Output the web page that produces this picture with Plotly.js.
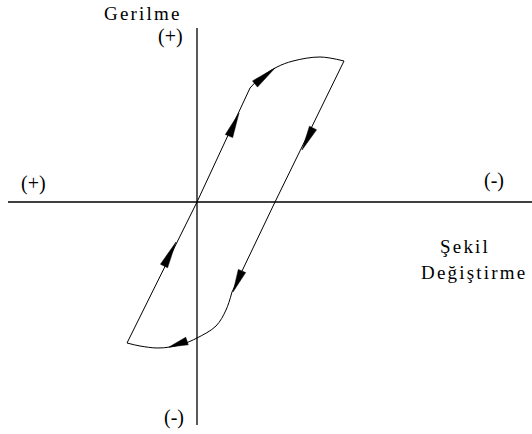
<!DOCTYPE html>
<html><head><meta charset="utf-8">
<script src="https://cdn.plot.ly/plotly-3.0.1.min.js"></script>
<style>html,body{margin:0;padding:0;background:#fff}#chart{width:532px;height:434px}</style>
</head><body><div id="chart"></div>
<script>
// Hysteresis loop (schematic) — strain (x) vs stress (y), arbitrary units
const loadStrain   = [-70, 0, 53];
const loadStress   = [-141, 0, 114];
const topStrain    = [53, 63, 80, 96, 123, 147];
const topStress    = [114, 124, 135, 141, 145, 141];
const unloadStrain = [147, 78, 35];
const unloadStress = [141, 0, -90];
const botStrain    = [35, 29, 19, 0, -14, -27, -40, -57, -70];
const botStress    = [-90, -108, -124, -136, -142, -145, -146, -144, -141];

// direction arrows along the loop: tail -> tip
const arrowTailX = [-33, 32, 58, 116, 45, -10];
const arrowTailY = [-64, 66, 118, 74, -69, -139];
const arrowTipX  = [-21, 42, 78, 105, 36, -28];
const arrowTipY  = [-40, 89, 134, 52, -90, -145];

// axis extents
const strainAxisX = [-189, 335];
const stressAxisY = [-223, 174];

const axisLabels = ['Gerilme', '(+)', '(+)', '(-)', '(-)', 'Şekil', 'Değiştirme'];

const black = '#000';
const traces = [];
const seg = (x, y, shape) => ({x: x, y: y, mode: 'lines', hoverinfo: 'skip',
  line: {color: black, width: 1, shape: shape, smoothing: 1}});
traces.push({x: strainAxisX, y: [0, 0], mode: 'lines', line: {color: black, width: 1.3}, hoverinfo: 'skip'});
traces.push({x: [0, 0], y: stressAxisY, mode: 'lines', line: {color: black, width: 1.3}, hoverinfo: 'skip'});
traces.push(seg(loadStrain, loadStress, 'linear'));
traces.push(seg(topStrain, topStress, 'spline'));
traces.push(seg(unloadStrain, unloadStress, 'linear'));
traces.push(seg(botStrain, botStress, 'spline'));

// arrowheads as filled triangles (plot units equal pixels)
const halfW = 4;
for (let i = 0; i < arrowTipX.length; i++) {
  const dx = arrowTipX[i] - arrowTailX[i], dy = arrowTipY[i] - arrowTailY[i];
  const L = Math.hypot(dx, dy), nx = -dy / L, ny = dx / L;
  traces.push({
    x: [arrowTipX[i], arrowTailX[i] + nx * halfW, arrowTailX[i] - nx * halfW, arrowTipX[i]],
    y: [arrowTipY[i], arrowTailY[i] + ny * halfW, arrowTailY[i] - ny * halfW, arrowTipY[i]],
    mode: 'lines', fill: 'toself', fillcolor: black, line: {color: black, width: 0.5}, hoverinfo: 'skip'
  });
}

const sp = t => '<span style="letter-spacing:2.2px">' + t + '</span>';
const word = {family: 'Liberation Serif', size: 19, color: black};
const sign = {family: 'Liberation Serif', size: 20, color: black};
const annotations = [
  {text: sp(axisLabels[0]), x: -54, y: 189, font: word},
  {text: axisLabels[1], x: -27, y: 166, font: sign},
  {text: axisLabels[2], x: -164, y: 19, font: sign},
  {text: axisLabels[3], x: 297, y: 22, font: sign},
  {text: axisLabels[4], x: -23, y: -215, font: sign},
  {text: sp(axisLabels[5]), x: 268, y: -44, font: word},
  {text: sp(axisLabels[6]), x: 277, y: -70, font: word}
].map(a => Object.assign({xref: 'x', yref: 'y', showarrow: false, xanchor: 'center', yanchor: 'middle'}, a));

const layout = {
  width: 532, height: 434,
  margin: {l: 0, r: 0, t: 0, b: 0, pad: 0},
  paper_bgcolor: '#fff', plot_bgcolor: '#fff',
  font: {family: 'Liberation Serif'},
  showlegend: false,
  xaxis: {range: [-197, 335], visible: false, fixedrange: true},
  yaxis: {range: [-232, 202], visible: false, fixedrange: true},
  annotations: annotations
};
Plotly.newPlot('chart', traces, layout, {staticPlot: true, displayModeBar: false});
</script>
</body></html>
